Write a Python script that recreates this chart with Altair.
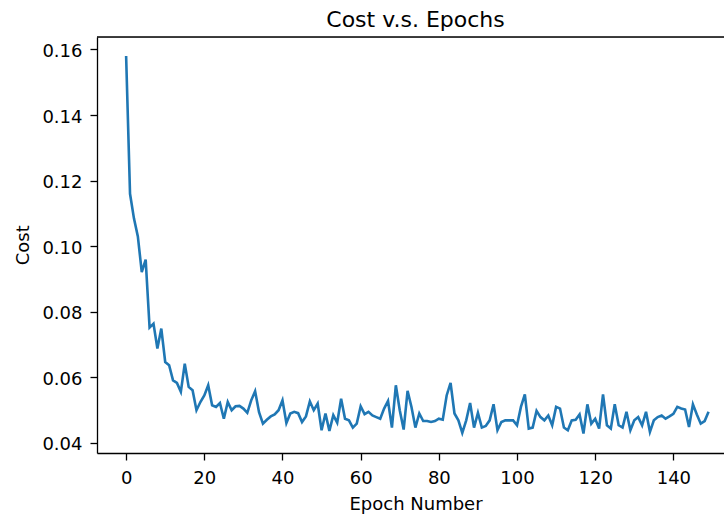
import altair as alt
import pandas as pd

epochs = list(range(150))
costs = [
    0.1580, 0.1160, 0.1085, 0.1030, 0.0921, 0.0959, 0.0752, 0.0764, 0.0688, 0.0749,
    0.0647, 0.0637, 0.0591, 0.0583, 0.0556, 0.0642, 0.0571, 0.0561, 0.0500, 0.0525,
    0.0545, 0.0576, 0.0515, 0.0510, 0.0522, 0.0474, 0.0525, 0.0500, 0.0512, 0.0513,
    0.0505, 0.0492, 0.0530, 0.0558, 0.0494, 0.0459, 0.0471, 0.0481, 0.0487, 0.0500,
    0.0530, 0.0461, 0.0490, 0.0495, 0.0491, 0.0464, 0.0481, 0.0527, 0.0500, 0.0520,
    0.0439, 0.0490, 0.0437, 0.0485, 0.0462, 0.0535, 0.0474, 0.0469, 0.0447, 0.0459,
    0.0512, 0.0488, 0.0495, 0.0484, 0.0479, 0.0474, 0.0505, 0.0528, 0.0447, 0.0576,
    0.0500, 0.0441, 0.0559, 0.0510, 0.0447, 0.0490, 0.0467, 0.0467, 0.0464, 0.0467,
    0.0474, 0.0471, 0.0545, 0.0583, 0.0490, 0.0469, 0.0431, 0.0469, 0.0522, 0.0447,
    0.0492, 0.0447, 0.0452, 0.0469, 0.0518, 0.0439, 0.0464, 0.0469, 0.0469, 0.0469,
    0.0454, 0.0510, 0.0548, 0.0444, 0.0447, 0.0498, 0.0479, 0.0469, 0.0484, 0.0454,
    0.0510, 0.0505, 0.0447, 0.0439, 0.0469, 0.0471, 0.0487, 0.0429, 0.0518, 0.0459,
    0.0474, 0.0444, 0.0548, 0.0454, 0.0444, 0.0518, 0.0454, 0.0447, 0.0495, 0.0439,
    0.0469, 0.0479, 0.0454, 0.0495, 0.0434, 0.0469, 0.0479, 0.0484, 0.0474, 0.0481,
    0.0489, 0.0510, 0.0505, 0.0502, 0.0449, 0.0518, 0.0487, 0.0459, 0.0467, 0.0495,
]
x_ticks = [0, 20, 40, 60, 80, 100, 120, 140]
y_ticks = [0.04, 0.06, 0.08, 0.10, 0.12, 0.14, 0.16]

df = pd.DataFrame({"epoch": epochs, "cost": costs})

W, H = 627, 416
FONT = "DejaVu Sans"

line = alt.Chart(df).mark_line(color="#1f77b4", strokeWidth=2.6).encode(
    x=alt.X(
        "epoch:Q",
        scale=alt.Scale(domain=[-7.45, 152.95], nice=False, zero=False),
        axis=alt.Axis(
            values=x_ticks, format="d", grid=False, title="Epoch Number",
            tickSize=7, labelPadding=9, labelFontSize=18, titleFontSize=18,
            titleFontWeight="normal", labelFont=FONT, titleFont=FONT,
            domainColor="black", tickColor="black", domainWidth=1.3, tickWidth=1.3,
            labelColor="black", titleColor="black",
            titleX=318.5, titleY=56.6, titleBaseline="alphabetic",
        ),
    ),
    y=alt.Y(
        "cost:Q",
        scale=alt.Scale(domain=[0.03695, 0.1638], nice=False, zero=False),
        axis=alt.Axis(
            values=y_ticks, format=".2f", grid=False, title="Cost",
            tickSize=7, labelPadding=8, labelFontSize=18, titleFontSize=18,
            titleFontWeight="normal", labelFont=FONT, titleFont=FONT,
            domainColor="black", tickColor="black", domainWidth=1.3, tickWidth=1.3,
            labelColor="black", titleColor="black", labelOffset=2,
            titleX=-68.7, titleY=207.7, titleBaseline="alphabetic",
        ),
    ),
)

top_spine = alt.Chart(alt.Data(values=[{}])).mark_rule(
    color="black", strokeWidth=1.3
).encode(x=alt.value(0), x2=alt.value(W), y=alt.value(0))

chart = alt.layer(line, top_spine).properties(
    width=W,
    height=H,
    autosize=alt.AutoSizeParams(type="none"),
    padding={"left": 97, "top": 37, "right": 0, "bottom": 61},
    title=alt.TitleParams(
        "Cost v.s. Epochs", fontSize=22, font=FONT, fontWeight="normal",
        color="black", anchor="middle", frame="group", baseline="alphabetic",
        offset=10.5, dx=5, dy=23.3,
    ),
).configure_view(stroke=None).configure(background="white")

chart.save("out.html", embed_options={"renderer": "svg", "actions": False})
